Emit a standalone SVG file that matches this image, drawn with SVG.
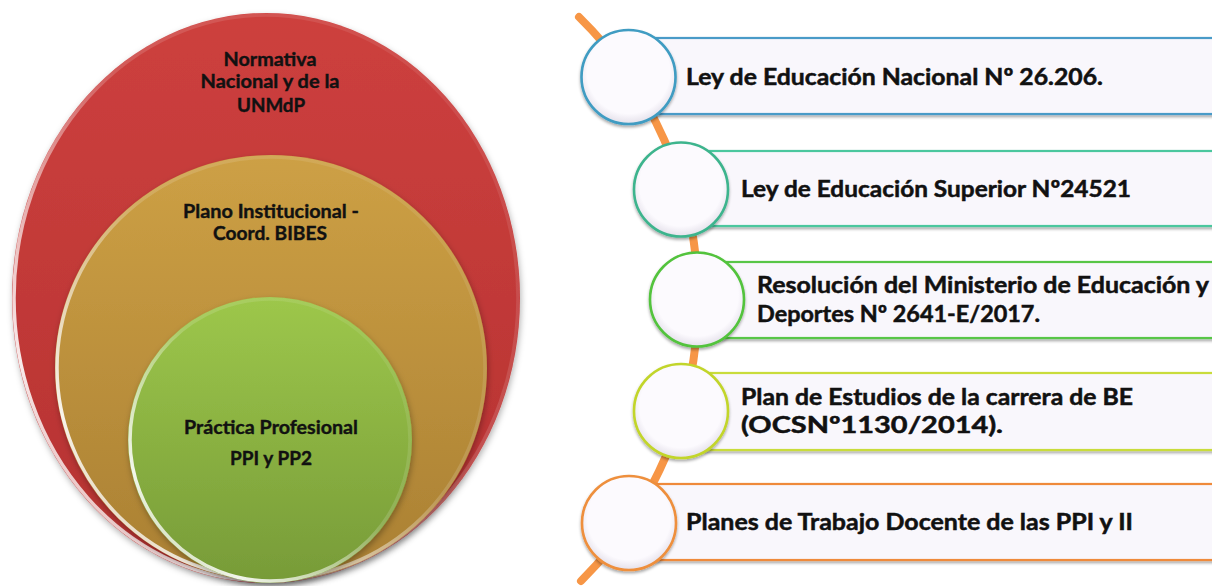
<svg xmlns="http://www.w3.org/2000/svg" width="1212" height="586" viewBox="0 0 1212 586">
<defs>
<linearGradient id="gRed" x1="0" y1="0" x2="0" y2="1">
<stop offset="0" stop-color="#CD403E"/><stop offset="1" stop-color="#B53231"/>
</linearGradient>
<linearGradient id="gGold" x1="0" y1="0" x2="0" y2="1">
<stop offset="0" stop-color="#CDA045"/><stop offset="1" stop-color="#AA8033"/>
</linearGradient>
<linearGradient id="gGreen" x1="0" y1="0" x2="0" y2="1">
<stop offset="0" stop-color="#9DC74B"/><stop offset="1" stop-color="#779B38"/>
</linearGradient>
<linearGradient id="rim" x1="1" y1="0" x2="0" y2="1">
<stop offset="0" stop-color="#ffffff" stop-opacity="0.05"/>
<stop offset="0.45" stop-color="#ffffff" stop-opacity="0.15"/>
<stop offset="0.8" stop-color="#ffffff" stop-opacity="0.9"/>
<stop offset="1" stop-color="#ffffff" stop-opacity="0.3"/>
</linearGradient>
<radialGradient id="gCirc" cx="0.5" cy="0.45" r="0.55">
<stop offset="0.8" stop-color="#FCFAFE"/><stop offset="1" stop-color="#E4E0EA"/>
</radialGradient>
<filter id="sh" x="-10%" y="-10%" width="120%" height="130%">
<feDropShadow dx="0" dy="2" stdDeviation="1.5" flood-color="#000" flood-opacity="0.35"/>
</filter>
<filter id="shBig" x="-10%" y="-10%" width="120%" height="120%">
<feDropShadow dx="1" dy="3" stdDeviation="3" flood-color="#000" flood-opacity="0.3"/>
</filter>
</defs>
<style>
.lt{font-family:Lato,"Open Sans","Liberation Sans",sans-serif;font-weight:bold;font-size:19px;fill:#111;stroke:#111;stroke-width:0.4;text-anchor:middle}
.rt{font-family:Lato,"Open Sans","Liberation Sans",sans-serif;font-weight:bold;font-size:23px;fill:#111;stroke:#111;stroke-width:0.5}
.box{fill:#F9F7FC;stroke-width:2.2;filter:url(#sh)}
.circ{fill:url(#gCirc);stroke-width:2.6;filter:url(#sh)}
.ell{stroke:url(#rim);stroke-width:3.5}
</style>

<g id="left-normativa">
<ellipse cx="266" cy="298" rx="254" ry="285" fill="url(#gRed)" filter="url(#shBig)"/>
<ellipse class="ell" cx="266" cy="298" rx="252" ry="283" fill="none"/>
<text class="lt" x="270" y="66" textLength="93" lengthAdjust="spacingAndGlyphs">Normativa</text>
<text class="lt" x="270" y="88" textLength="139" lengthAdjust="spacingAndGlyphs">Nacional y de la</text>
<text class="lt" x="271" y="112" textLength="68" lengthAdjust="spacingAndGlyphs">UNMdP</text>
</g>
<g id="left-plano">
<ellipse cx="271" cy="368" rx="216" ry="213" fill="url(#gGold)" filter="url(#shBig)"/>
<ellipse class="ell" cx="271" cy="368" rx="214" ry="211" fill="none"/>
<text class="lt" x="271" y="218" textLength="176" lengthAdjust="spacingAndGlyphs">Plano Institucional -</text>
<text class="lt" x="270" y="240" textLength="114" lengthAdjust="spacingAndGlyphs">Coord. BIBES</text>
</g>
<g id="left-practica">
<ellipse cx="270" cy="440" rx="142" ry="143" fill="url(#gGreen)" filter="url(#shBig)"/>
<ellipse class="ell" cx="270" cy="440" rx="140" ry="141" fill="none"/>
<text class="lt" x="271" y="434" textLength="174" lengthAdjust="spacingAndGlyphs">Práctica Profesional</text>
<text class="lt" x="271" y="465" textLength="82" lengthAdjust="spacingAndGlyphs">PPI y PP2</text>
</g>

<g id="connectors">
<path d="M 579 17 A 396 396 0 0 1 581 581" fill="none" stroke="#F79646" stroke-width="8" stroke-linecap="round"/>
</g>

<g id="node1">
<rect class="box" x="628" y="38" width="600" height="76" stroke="#4A9BC8"/>
<circle class="circ" cx="628.5" cy="77" r="47" stroke="#3F9CC2"/>
<text class="rt" x="686" y="85" textLength="417" lengthAdjust="spacingAndGlyphs">Ley de Educación Nacional Nº 26.206.</text>
</g>
<g id="node2">
<rect class="box" x="681" y="151" width="550" height="75" stroke="#4CC79E"/>
<circle class="circ" cx="681" cy="189.5" r="47" stroke="#3DB48D"/>
<text class="rt" x="741" y="197" textLength="390" lengthAdjust="spacingAndGlyphs">Ley de Educación Superior Nº24521</text>
</g>
<g id="node3">
<rect class="box" x="697" y="262" width="530" height="76" stroke="#58C646"/>
<circle class="circ" cx="697" cy="299.5" r="47" stroke="#52C33C"/>
<text class="rt" x="757" y="293" textLength="452" lengthAdjust="spacingAndGlyphs">Resolución del Ministerio de Educación y</text>
<text class="rt" x="757" y="322" textLength="283" lengthAdjust="spacingAndGlyphs">Deportes Nº 2641-E/2017.</text>
</g>
<g id="node4">
<rect class="box" x="681" y="373" width="550" height="77" stroke="#C9DC3A"/>
<circle class="circ" cx="681" cy="411" r="47" stroke="#C2D52C"/>
<text class="rt" x="741" y="405" textLength="392" lengthAdjust="spacingAndGlyphs">Plan de Estudios de la carrera de BE</text>
<text class="rt" x="741" y="433" textLength="262" lengthAdjust="spacingAndGlyphs">(OCSNº1130/2014).</text>
</g>
<g id="node5">
<rect class="box" x="629" y="484" width="600" height="76" stroke="#EF8A3A"/>
<circle class="circ" cx="629" cy="523" r="47" stroke="#EE8F3C"/>
<text class="rt" x="686" y="530" textLength="447" lengthAdjust="spacingAndGlyphs">Planes de Trabajo Docente de las PPI y II</text>
</g>
</svg>
